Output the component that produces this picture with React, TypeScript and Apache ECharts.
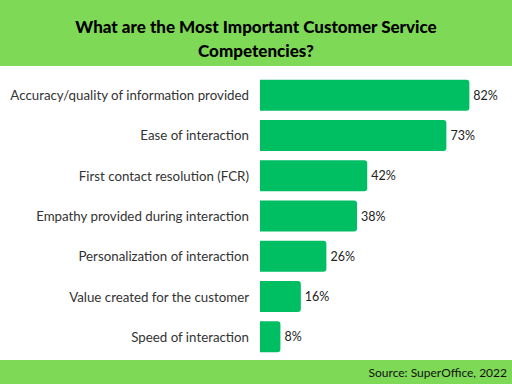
import React, { useEffect, useRef } from "react";
import * as echarts from "echarts";

const categories = [
  "Accuracy/quality of information provided",
  "Ease of interaction",
  "First contact resolution (FCR)",
  "Empathy provided during interaction",
  "Personalization of interaction",
  "Value created for the customer",
  "Speed of interaction",
];
const values = [82, 73, 42, 38, 26, 16, 8];
const titleText = "What are the Most Important Customer Service\nCompetencies?";
const sourceText = "Source: SuperOffice, 2022";

export default function App() {
  const ref = useRef<HTMLDivElement>(null);
  useEffect(() => {
    document.body.style.margin = "0";
    document.body.style.overflow = "hidden";
    if (!ref.current) return;
    const chart = echarts.init(ref.current, null, { renderer: "svg" });
    chart.setOption({
      animation: false,
      backgroundColor: "#ffffff",
      graphic: [
        { type: "rect", z: 0, shape: { x: 0, y: 0, width: 512, height: 66 }, style: { fill: "#7ED957" } },
        { type: "rect", z: 0, shape: { x: 0, y: 360, width: 512, height: 24 }, style: { fill: "#7ED957" } },
        {
          type: "text",
          z: 10,
          x: 507,
          y: 372,
          style: {
            text: sourceText,
            fontSize: 12,
            fontFamily: "Lato",
            fill: "#111",
            align: "right",
            verticalAlign: "middle",
          },
        },
      ],
      title: {
        text: titleText,
        left: "center",
        top: 9,
        textStyle: { fontSize: 17, fontWeight: 900, fontFamily: "Lato", color: "#000", lineHeight: 24 },
      },
      grid: { left: 260, right: 12, top: 75, height: 282, containLabel: false },
      xAxis: { type: "value", min: 0, max: 94, show: false },
      yAxis: {
        type: "category",
        data: categories,
        inverse: true,
        axisLine: { show: false },
        axisTick: { show: false },
        axisLabel: { margin: 11, fontSize: 13.3, fontFamily: "Lato", color: "#333" },
      },
      series: [
        {
          type: "bar",
          data: values,
          barWidth: 31,
          itemStyle: { color: "#00BF63", borderRadius: [0, 3, 3, 0] },
          label: {
            show: true,
            position: "right",
            distance: 4,
            formatter: "{c}%",
            fontSize: 12.5,
            fontFamily: "Lato",
            color: "#222",
          },
        },
      ],
    });
    return () => chart.dispose();
  }, []);
  return <div ref={ref} style={{ width: 512, height: 384 }} />;
}
